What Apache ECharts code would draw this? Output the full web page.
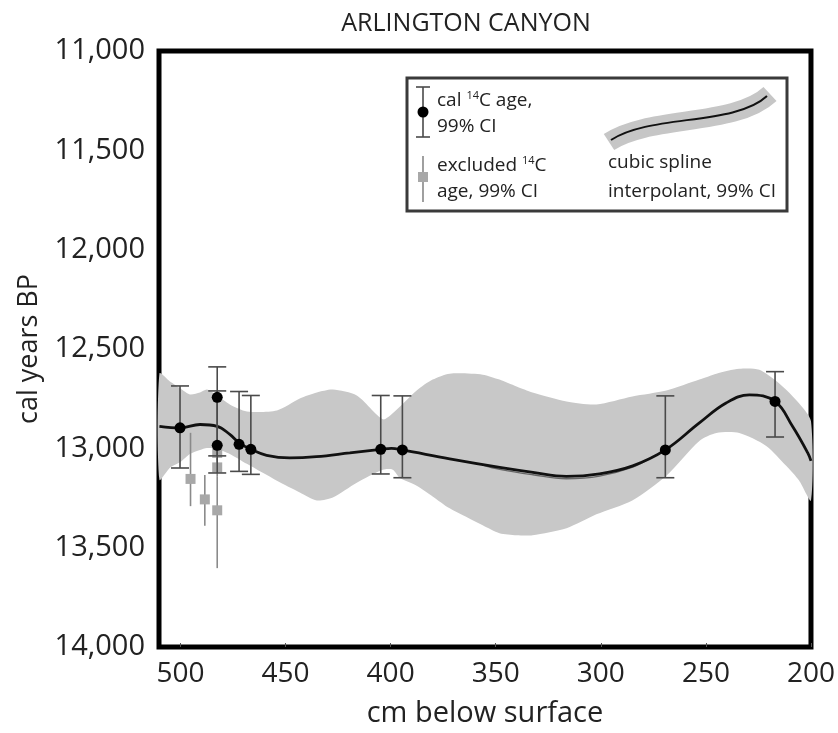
<!DOCTYPE html>
<html>
<head>
<meta charset="utf-8">
<title>Arlington Canyon</title>
<script src="https://cdn.jsdelivr.net/npm/echarts@6/dist/echarts.min.js"></script>
<style>
  html, body { margin: 0; padding: 0; background: #fff; }
  #chart { width: 838px; height: 733px; }
</style>
</head>
<body>
<div id="chart"></div>
<script>
// cal 14C ages used in the model (depth cm, cal yr BP, 99% CI)
var ageDepth = [500.2, 482.5, 482.5, 472.1, 466.5, 404.7, 394.4, 269.3, 217.1];
var ageMid = [12897, 12743, 12985, 12980, 13005, 13005, 13008, 13008, 12764];
var ageLow = [12686, 12590, 12711, 12714, 12734, 12734, 12736, 12736, 12614];
var ageHigh = [13099, 13038, 13124, 13116, 13131, 13129, 13148, 13148, 12943];

// excluded 14C ages
var exclDepth = [495.2, 488.4, 482.5, 482.5, 482.5];
var exclMid = [13154, 13257, 13312, 13096, 13023];
var exclLow = [12922, 13134, 13140, 13050, 12990];
var exclHigh = [13291, 13390, 13603, 13140, 13060];

// cubic spline interpolant
var splineDepth = [510, 500, 490.7, 482.5, 476.5, 472.1, 466.5, 459, 448, 435.3, 419.4, 404.7, 399.6, 394.4,
  371.9, 348.1, 332.3, 316.4, 300.6, 284.8, 269.3, 253.1, 240.4, 229.3, 217.1, 208.8, 201.6, 200];
var splineAge = [12889, 12897, 12880, 12889, 12930, 12972, 13005, 13035, 13048, 13042, 13023, 13005, 13000, 13008,
  13053, 13096, 13121, 13141, 13128, 13088, 13008, 12872, 12772, 12731, 12764, 12889, 13022, 13063];
// second spline run, visible where it splits from the first
var altDepth = [356, 348.1, 332.3, 316.4, 300.6, 284.8, 275];
var altAge = [13084, 13106, 13133, 13153, 13140, 13095, 13040];

// 99% CI envelope
var bandTopDepth = [510, 505, 500, 495.5, 490.7, 487.4, 482.6, 476.5, 468.4, 454.1, 443.2, 435.1, 427.5, 416.1,
  403.7, 399, 387.6, 380, 371.9, 356.2, 348.2, 340.1, 332.5, 316.3, 302.1, 285, 268.8, 253.1, 245, 234.1, 224.6,
  215.1, 205.6, 200];
var bandTopAge = [12624, 12664, 12699, 12729, 12719, 12704, 12734, 12779, 12814, 12809, 12749, 12719, 12704, 12734,
  12854, 12824, 12709, 12654, 12624, 12629, 12654, 12689, 12719, 12764, 12779, 12739, 12709, 12654, 12624, 12600, 12605,
  12674, 12774, 12864];
var bandBotDepth = [510, 505, 500, 495.5, 490.7, 487.4, 482.6, 476.5, 468.4, 454.1, 443.2, 435.1, 427.5, 416.1,
  403.7, 399, 395.7, 387.6, 380, 371.9, 356.2, 348.2, 340.1, 332.5, 316.3, 302.1, 285, 268.8, 253.1, 245, 234.1,
  221.3, 211.8, 205.6, 200];
var bandBotAge = [13158, 13098, 13068, 13028, 13008, 12998, 13003, 13028, 13078, 13163, 13222, 13262, 13247, 13173,
  13108, 13108, 13148, 13188, 13242, 13302, 13387, 13427, 13437, 13437, 13402, 13332, 13262, 13138, 12963, 12923, 12923,
  12988, 13088, 13163, 13262];

var FONT = 'Open Sans';

var mychart = echarts.init(document.getElementById('chart'));

function errRender (cap, color, width) {
  return function (params, api) {
    var a = api.coord([api.value(0), api.value(1)]);
    var b = api.coord([api.value(0), api.value(2)]);
    var kids = [{
      type: 'line',
      shape: { x1: a[0], y1: a[1], x2: b[0], y2: b[1] },
      style: { stroke: color, lineWidth: width }
    }];
    if (cap) {
      kids.push({ type: 'line', shape: { x1: a[0] - cap, y1: a[1], x2: a[0] + cap, y2: a[1] }, style: { stroke: color, lineWidth: width } });
      kids.push({ type: 'line', shape: { x1: b[0] - cap, y1: b[1], x2: b[0] + cap, y2: b[1] }, style: { stroke: color, lineWidth: width } });
    }
    return { type: 'group', children: kids };
  };
}

var option = {
  animation: false,
  textStyle: { fontFamily: FONT },
  title: {
    text: 'ARLINGTON CANYON',
    left: 461,
    top: 6,
    textAlign: 'center',
    textStyle: { fontFamily: FONT, fontSize: 25, fontWeight: 'normal', color: '#222' }
  },
  grid: {
    left: 159,
    right: 26.5,
    top: 51,
    bottom: 80,
    show: true,
    borderColor: '#000',
    borderWidth: 5,
    backgroundColor: 'transparent'
  },
  xAxis: {
    type: 'value',
    inverse: true,
    min: 200,
    max: 510.2,
    splitNumber: 6,
    name: 'cm below surface',
    nameLocation: 'middle',
    nameGap: 52,
    nameTextStyle: { fontSize: 29, color: '#222' },
    axisLine: { show: false },
    axisTick: { show: true, inside: true, length: 4, lineStyle: { color: '#555', width: 1 } },
    splitLine: { show: false },
    axisLabel: { showMaxLabel: false, showMinLabel: true, margin: 13, fontSize: 28, color: '#222' }
  },
  yAxis: {
    type: 'value',
    inverse: true,
    min: 11000,
    max: 14000,
    interval: 500,
    name: 'cal years BP',
    nameLocation: 'middle',
    nameGap: 116,
    nameTextStyle: { fontSize: 27, color: '#222' },
    axisLine: { show: false },
    axisTick: { show: false },
    splitLine: { show: false },
    axisLabel: {
      margin: 14,
      fontSize: 29,
      color: '#222',
      formatter: function (v) { return v.toLocaleString('en-US'); }
    }
  },
  graphic: [
    {
      type: 'group',
      z: 100,
      children: [
        { type: 'rect', shape: { x: 407, y: 78, width: 380, height: 133 }, style: { fill: '#fff', stroke: '#3a3a3a', lineWidth: 3 } },
        // black age icon
        { type: 'line', shape: { x1: 423, y1: 87, x2: 423, y2: 137 }, style: { stroke: '#4a4a4a', lineWidth: 1.6 } },
        { type: 'line', shape: { x1: 416, y1: 87, x2: 430, y2: 87 }, style: { stroke: '#4a4a4a', lineWidth: 1.6 } },
        { type: 'line', shape: { x1: 416, y1: 137, x2: 430, y2: 137 }, style: { stroke: '#4a4a4a', lineWidth: 1.6 } },
        { type: 'circle', shape: { cx: 423, cy: 112, r: 5.5 }, style: { fill: '#000' } },
        {
          type: 'text', x: 437, y: 101,
          style: {
            text: '{a|cal }{s|14}{a|C age,}', fontFamily: FONT, verticalAlign: 'middle',
            rich: { a: { fontSize: 19, fontFamily: FONT, fill: '#222' }, s: { fontSize: 11, fontFamily: FONT, fill: '#222', verticalAlign: 'top', padding: [0, 0, 10, 0] } }
          }
        },
        { type: 'text', x: 437, y: 127, style: { text: '99% CI', fontSize: 19, fontFamily: FONT, fill: '#222', verticalAlign: 'middle' } },
        // excluded age icon
        { type: 'line', shape: { x1: 423, y1: 156, x2: 423, y2: 202 }, style: { stroke: '#888', lineWidth: 1.6 } },
        { type: 'rect', shape: { x: 418, y: 172, width: 10, height: 10 }, style: { fill: '#a8a8a8' } },
        {
          type: 'text', x: 437, y: 166,
          style: {
            text: '{a|excluded }{s|14}{a|C}', fontFamily: FONT, verticalAlign: 'middle',
            rich: { a: { fontSize: 19, fontFamily: FONT, fill: '#222' }, s: { fontSize: 11, fontFamily: FONT, fill: '#222', verticalAlign: 'top', padding: [0, 0, 10, 0] } }
          }
        },
        { type: 'text', x: 437, y: 192, style: { text: 'age, 99% CI', fontSize: 19, fontFamily: FONT, fill: '#222', verticalAlign: 'middle' } },
        // spline icon
        { type: 'bezierCurve', shape: { x1: 609, y1: 142, cpx1: 650, cpy1: 115, cpx2: 735, cpy2: 127, x2: 770, y2: 94 }, style: { stroke: '#c6c6c6', lineWidth: 19, fill: null, lineCap: 'butt' } },
        { type: 'bezierCurve', shape: { x1: 611, y1: 140, cpx1: 650, cpy1: 114, cpx2: 735, cpy2: 126, x2: 767, y2: 96 }, style: { stroke: '#111', lineWidth: 2, fill: null } },
        { type: 'text', x: 608, y: 163, style: { text: 'cubic spline', fontSize: 19, fontFamily: FONT, fill: '#222', verticalAlign: 'middle' } },
        { type: 'text', x: 608, y: 192, style: { text: 'interpolant, 99% CI', fontSize: 19, fontFamily: FONT, fill: '#222', verticalAlign: 'middle' } }
      ]
    }
  ],
  series: [
    {
      name: 'CI band',
      type: 'custom',
      silent: true,
      z: 1,
      data: [[bandTopDepth[0], bandTopAge[0]]],
      renderItem: function (params, api) {
        var pts = [];
        for (var i = 0; i < bandTopDepth.length; i++) {
          pts.push(api.coord([bandTopDepth[i], bandTopAge[i]]));
        }
        for (var j = bandBotDepth.length - 1; j >= 0; j--) {
          pts.push(api.coord([bandBotDepth[j], bandBotAge[j]]));
        }
        return { type: 'polygon', shape: { points: pts, smooth: 0.25 }, style: { fill: '#c8c8c8' } };
      }
    },
    {
      name: 'spline b',
      type: 'line',
      z: 2,
      smooth: 0.4,
      symbol: 'none',
      data: altDepth.map(function (d, i) { return [d, altAge[i]]; }),
      lineStyle: { color: '#666', width: 1.4 }
    },
    {
      name: 'spline',
      type: 'line',
      z: 3,
      smooth: 0.4,
      symbol: 'none',
      data: splineDepth.map(function (d, i) { return [d, splineAge[i]]; }),
      lineStyle: { color: '#111', width: 2.8 }
    },
    {
      name: 'excluded CI',
      type: 'custom',
      z: 4,
      encode: { x: 0, y: [1, 2] },
      data: exclDepth.map(function (d, i) { return [d, exclLow[i], exclHigh[i]]; }),
      renderItem: errRender(0, '#8a8a8a', 1.6)
    },
    {
      name: 'excluded',
      type: 'scatter',
      z: 5,
      symbol: 'rect',
      symbolSize: 10,
      data: exclDepth.map(function (d, i) { return [d, exclMid[i]]; }),
      itemStyle: { color: '#a8a8a8', opacity: 1 }
    },
    {
      name: 'age CI',
      type: 'custom',
      z: 6,
      encode: { x: 0, y: [1, 2] },
      data: ageDepth.map(function (d, i) { return [d, ageLow[i], ageHigh[i]]; }),
      renderItem: errRender(9, '#4a4a4a', 1.6)
    },
    {
      name: 'age',
      type: 'scatter',
      z: 7,
      symbolSize: 11,
      data: ageDepth.map(function (d, i) { return [d, ageMid[i]]; }),
      itemStyle: { color: '#000', opacity: 1 }
    }
  ]
};

mychart.setOption(option);
</script>
</body>
</html>
